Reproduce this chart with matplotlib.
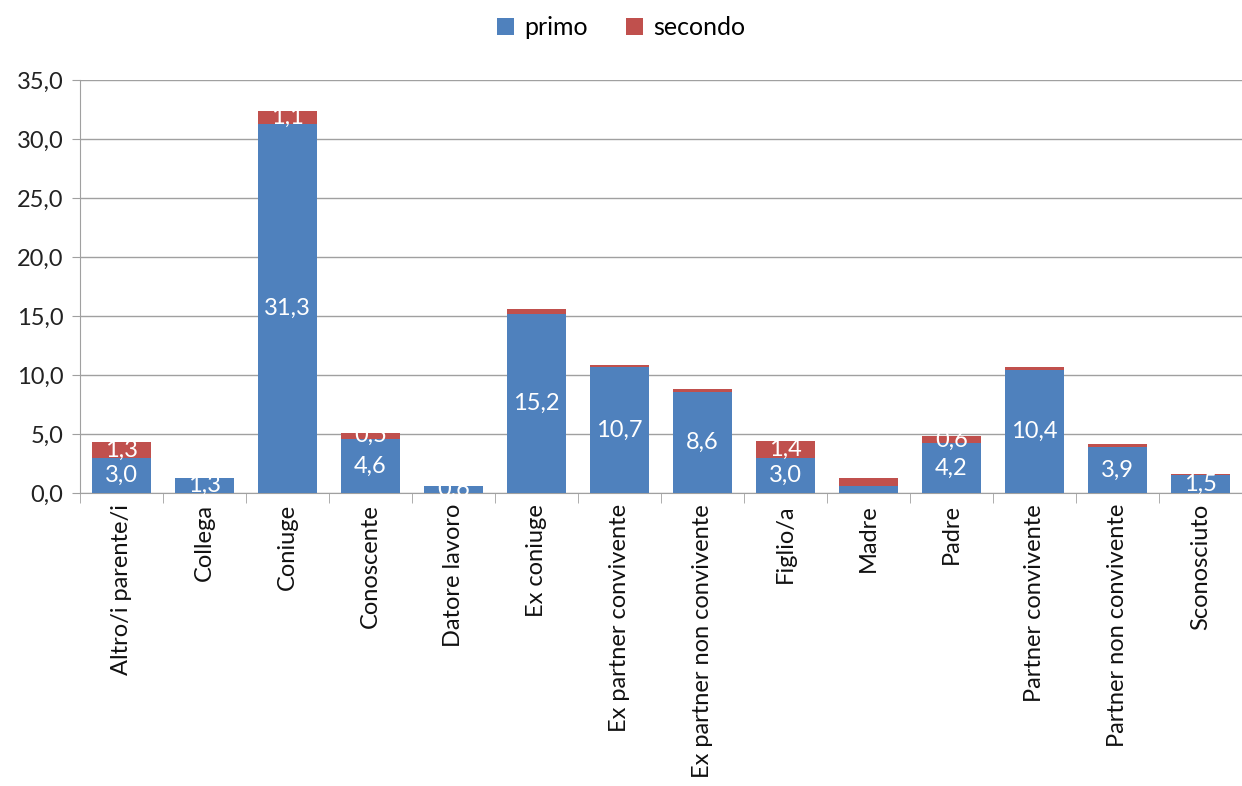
import matplotlib.pyplot as plt
import numpy as np

plt.rcParams['font.family'] = ['Lato', 'DejaVu Sans']

categorie = ['Altro/i parente/i', 'Collega', 'Coniuge', 'Conoscente', 'Datore lavoro',
             'Ex coniuge', 'Ex partner convivente', 'Ex partner non convivente',
             'Figlio/a', 'Madre', 'Padre', 'Partner convivente',
             'Partner non convivente', 'Sconosciuto']
primo = [3.0, 1.3, 31.3, 4.6, 0.6, 15.2, 10.7, 8.6, 3.0, 0.6, 4.2, 10.4, 3.9, 1.5]
secondo = [1.3, 0.0, 1.1, 0.5, 0.0, 0.4, 0.15, 0.2, 1.4, 0.7, 0.6, 0.3, 0.25, 0.1]
# which labels Excel actually shows
mostra_primo = [1, 1, 1, 1, 1, 1, 1, 1, 1, 0, 1, 1, 1, 1]
mostra_secondo = [1, 0, 1, 1, 0, 0, 0, 0, 1, 0, 1, 0, 0, 0]

blu = '#4F81BD'
rosso = '#C0504D'

fig = plt.figure(figsize=(12.42, 7.86), dpi=100)
ax = fig.add_axes([80/1242, 1-493/786, 1-80/1242, 413/786])

x = np.arange(len(categorie))
b1 = ax.bar(x, primo, 0.7, color=blu, label='primo', zorder=3)
b2 = ax.bar(x, secondo, 0.7, bottom=primo, color=rosso, label='secondo', zorder=3)

def fmt(v):
    return f'{v:.1f}'.replace('.', ',')

for i in x:
    if mostra_primo[i]:
        ax.text(i, primo[i]/2, fmt(primo[i]), ha='center', va='center',
                color='white', fontsize=17, zorder=4)
    if mostra_secondo[i]:
        ax.text(i, primo[i] + secondo[i]/2, fmt(secondo[i]), ha='center', va='center',
                color='white', fontsize=17, zorder=4)

ax.set_xlim(-0.5, len(categorie) - 0.5)
ax.set_ylim(0, 35)
ax.set_yticks(np.arange(0, 36, 5))
ax.set_yticklabels([fmt(v) for v in np.arange(0, 36, 5)], fontsize=17, color='#222222')
ax.yaxis.grid(True, color='#A0A0A0', linewidth=1, zorder=0)

ax.set_xticks(x)
ax.set_xticklabels(categorie, rotation=90, fontsize=17, color='#111111')
ax.set_xticks(np.arange(-0.5, len(categorie)), minor=True)
ax.tick_params(axis='x', which='major', length=0, pad=8)
ax.tick_params(axis='x', which='minor', length=7, color='#A0A0A0', direction='out')
ax.tick_params(axis='y', length=6, color='#A0A0A0', direction='out', pad=6)

for s in ['top', 'right']:
    ax.spines[s].set_visible(False)
for s in ['left', 'bottom']:
    ax.spines[s].set_color('#A0A0A0')

fig.legend(handles=[b1, b2], loc='upper center', bbox_to_anchor=(0.5, 1.008), ncol=2,
           frameon=False, fontsize=18, handlelength=0.7, handleheight=0.7,
           columnspacing=1.5, handletextpad=0.4)

fig.savefig('out.png', dpi=100)
